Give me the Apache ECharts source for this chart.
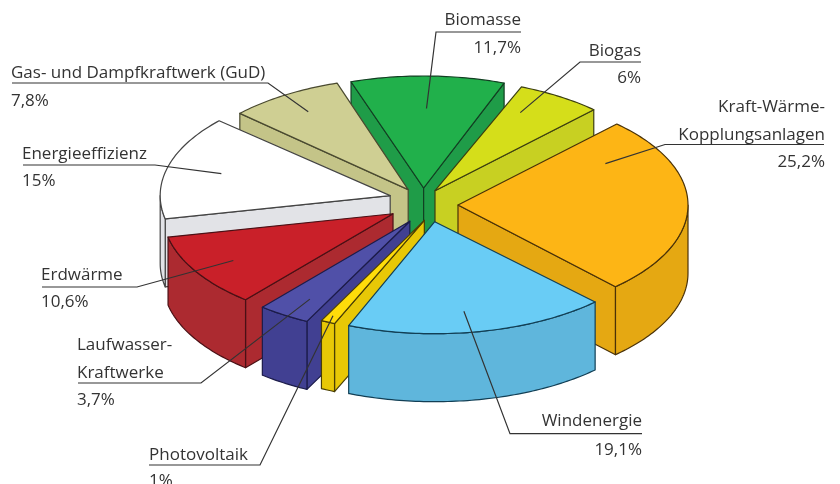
<!DOCTYPE html>
<html><head><meta charset="utf-8">
<style>html,body{margin:0;padding:0;background:#fff}#c{width:840px;height:484px}</style>
<script src="https://cdn.jsdelivr.net/npm/echarts@6/dist/echarts.min.js"></script>
</head><body><div id="c"></div>
<script>
// data, clockwise from the top
var names = ['Biomasse','Biogas','Kraft-Wärme-Kopplungsanlagen','Windenergie','Photovoltaik','Laufwasser-Kraftwerke','Erdwärme','Energieeffizienz','Gas- und Dampfkraftwerk (GuD)'];
var shares = [11.7,6,25.2,19.1,1,3.7,10.6,15,7.8];
var shareLabels = ['11,7%','6%','25,2%','19,1%','1%','3,7%','10,6%','15%','7,8%'];
var nameLines = [['Biomasse'],['Biogas'],['Kraft-Wärme-','Kopplungsanlagen'],['Windenergie'],['Photovoltaik'],['Laufwasser-','Kraftwerke'],['Erdwärme'],['Energieeffizienz'],['Gas- und Dampfkraftwerk (GuD)']];

// styling
var topColors  = ['#21b04b','#d5de1a','#fdb515','#69ccf5','#ffdc0a','#5050a8','#c92029','#ffffff','#cfcf93'];
var sideColors = ['#1f9c48','#c8d022','#e5a812','#5fb6dc','#e8c806','#414092','#ac2a30','#e2e3e7','#c4c488'];
var edgeColors = ['#123f22','#3c3f10','#4a3208','#123f55','#4a3f05','#1c1c4a','#4a1015','#444444','#4a4a30'];

// projection layout
var CX = 423, CY = 205, RX = 230, RY = 112, DEPTH = 68, EX = 35, EY = 17, START = -20;
// per-slice fine placement: apex shift x, y, and angular trim at start, end
var placement = [[0,0,1.6,1.6],[-7,0,0,0],[0,0,0,-2.5],[5,0,1.5,1],[16,0,0,0],[6,2,0,0],[0,0,0,0],[1,-5,0,0],[4,-1,1,-2]];

// labels: text x, align, first baseline, line step, leader path and leader anchor (angle, radius fraction)
var labelLayout = [
  {x:521,align:'right',y:24, step:28,line:[[521,32],[436,32]],anchor:[1,.71]},
  {x:641,align:'right',y:55, step:27,line:[[641,62],[580,62]],anchor:[28,.79]},
  {x:825,align:'right',y:111,step:27.5,line:[[824,144.5],[665,144.5]],anchor:[60,.74]},
  {x:642,align:'right',y:425,step:29,line:[[642,433.7],[510,433.7]],anchor:[171,.81]},
  {x:149,align:'left', y:459,step:25.5,line:[[149,465],[260,465]],anchor:[205,.94]},
  {x:77, align:'left', y:349,step:27.5,line:[[78,383],[201,383]],anchor:[212,.82]},
  {x:41, align:'left', y:279,step:27,line:[[42,287],[137,287]],anchor:[239,.81]},
  {x:22, align:'left', y:158,step:27,line:[[23,165],[155,165]],anchor:[285,.76]},
  {x:11, align:'left', y:77, step:28,line:[[12,83],[268,83]],anchor:[328,.82]}
];
var FONT = '17px "Open Sans", sans-serif', TEXT = '#333333', BASE = 5;

var total = shares.reduce(function(a,b){return a+b;},0);
var sweep = [], acc = START;
shares.forEach(function(v,i){ var s = v/total*360; sweep.push([acc+placement[i][2],acc+s-placement[i][3]]); acc += s; });
var rad = function(d){return d*Math.PI/180;};
function apex(i){
  var m = rad((sweep[i][0]+sweep[i][1])/2);
  return [CX+EX*Math.sin(m)+placement[i][0], CY-EY*Math.cos(m)+placement[i][1]];
}
function rim(a,t,f){ f = f==null?1:f; return [a[0]+f*RX*Math.sin(rad(t)), a[1]-f*RY*Math.cos(rad(t))]; }
function down(p){ return [p[0],p[1]+DEPTH]; }
function poly(pts,fill,stroke,z){
  return {type:'polygon',z2:z,shape:{points:pts},style:{fill:fill,stroke:stroke,lineWidth:1.2,lineJoin:'round'},silent:true};
}
function pieItem(params,api){
  var i = api.value(1), a = apex(i), t1 = sweep[i][0], t2 = sweep[i][1];
  var kids = [], side = sideColors[i], edge = edgeColors[i];
  var n = api.value(2)*10;
  if (Math.sin(rad(t1))<0) { var p=rim(a,t1); kids.push(poly([a,p,down(p),down(a)],side,edge,n+1)); }
  if (Math.sin(rad(t2))>0) { var q=rim(a,t2); kids.push(poly([q,a,down(a),down(q)],side,edge,n+1)); }
  var w1 = Math.max(t1,90), w2 = Math.min(t2,270);
  if (w2>w1){
    var up=[];
    for (var t=w1;t<w2;t+=1){ up.push(rim(a,t)); }
    up.push(rim(a,w2));
    kids.push(poly(up.concat(up.map(down).reverse()),side,edge,n+2));
  }
  var pts=[a];
  for (var k=t1;k<t2;k+=1){ pts.push(rim(a,k)); }
  pts.push(rim(a,t2));
  kids.push(poly(pts,topColors[i],edge,n+3));
  return {type:'group',children:kids};
}
function labelItem(params,api){
  var i = api.value(1), L = labelLayout[i], kids = [];
  var inner = rim(apex(i),L.anchor[0],L.anchor[1]);
  kids.push({type:'polyline',silent:true,shape:{points:L.line.concat([inner])},style:{fill:null,stroke:'#333333',lineWidth:1.2}});
  nameLines[i].concat([shareLabels[i]]).forEach(function(s,j){
    kids.push({type:'text',silent:true,style:{text:s,x:L.x,y:L.y+j*L.step+BASE,align:L.align,verticalAlign:'bottom',font:FONT,fill:TEXT}});
  });
  return {type:'group',children:kids};
}
// back-to-front paint order
var order = shares.map(function(v,i){return i;}).sort(function(a,b){
  var ma=rad((sweep[a][0]+sweep[a][1])/2), mb=rad((sweep[b][0]+sweep[b][1])/2);
  return Math.cos(mb)-Math.cos(ma);
});
var pieData = order.map(function(i,rank){return {name:names[i],value:[shares[i],i,rank]};});
var labelData = shares.map(function(v,i){return {name:names[i],value:[v,i]};});

var chart = echarts.init(document.getElementById('c'),null,{renderer:'canvas'});
chart.setOption({
  animation:false,
  backgroundColor:'#ffffff',
  series:[
    {type:'custom',coordinateSystem:'none',renderItem:pieItem,data:pieData,z:2,silent:true},
    {type:'custom',coordinateSystem:'none',renderItem:labelItem,data:labelData,z:3,silent:true}
  ]
});
</script></body></html>
